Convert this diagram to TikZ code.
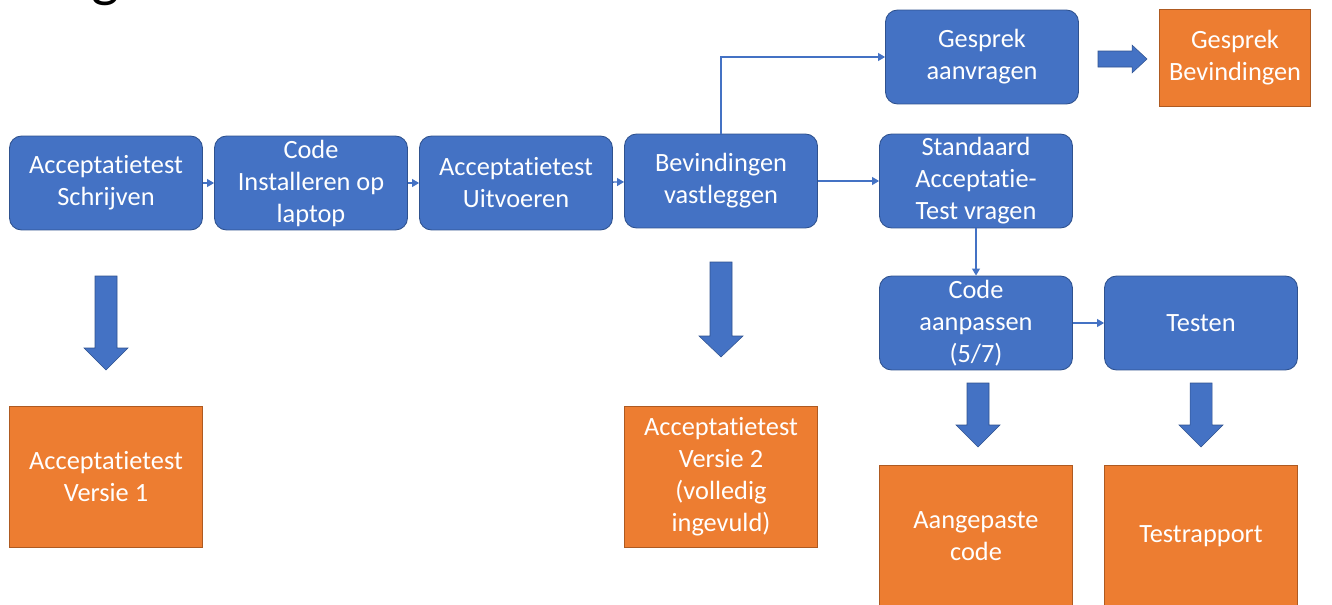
\documentclass[tikz,border=0pt]{standalone}
\usepackage{fontspec}
\setmainfont{Carlito}[Ligatures=NoCommon]
\usetikzlibrary{arrows.meta}
\definecolor{myblue}{HTML}{4472C4}
\definecolor{mybluedark}{HTML}{2F528F}
\definecolor{myorange}{HTML}{ED7D31}
\definecolor{myorangedark}{HTML}{AE5A21}
\tikzset{
  bluebox/.style={rounded corners=0.24cm, fill=myblue, draw=mybluedark, line width=0.5pt,
    text=white, align=center, inner sep=0pt, minimum width=3.86cm, minimum height=1.88cm,
    font=\fontsize{15}{18.2}\selectfont},
  orangebox/.style={fill=myorange, draw=myorangedark, line width=0.5pt,
    text=white, align=center, inner sep=0pt, minimum width=3.86cm,
    font=\fontsize{15}{18.2}\selectfont},
  conn/.style={draw=myblue, line width=0.8pt, -{Triangle[length=4pt,width=4.5pt]}},
  blockarrow/.style={fill=myblue, draw=mybluedark, line width=0.3pt}
}
\begin{document}
\begin{tikzpicture}[x=0.02cm,y=-0.02cm]
\useasboundingbox (0,0) rectangle (1332,605);
\begin{scope}
\clip (0,0) rectangle (1332,605);
\node[font=\fontsize{34}{34}\selectfont, anchor=base, inner sep=0pt] (title) at (106,-5) {g};
% bottom orange boxes (cut off at the lower edge)
\node[orangebox, minimum height=2.9cm, anchor=north] (o4) at (976,465) {};
\node[orangebox, minimum height=2.9cm, anchor=north] (o5) at (1201,465) {};
\end{scope}
\node[font=\fontsize{15}{18.2}\selectfont, text=white, align=center] (o4t) at (976,536) {Aangepaste\\code};
\node[font=\fontsize{15}{18.2}\selectfont, text=white, align=center] (o5t) at (1201,536) {Testrapport};

% blue process boxes
\node[bluebox] (s1) at (106,183) {Acceptatietest\\Schrijven};
\node[bluebox] (s2) at (311,183) {Code\\Installeren op\\laptop};
\node[bluebox] (s3) at (516,183) {Acceptatietest\\Uitvoeren};
\node[bluebox] (s4) at (721,181) {Bevindingen\\vastleggen};
\node[bluebox] (g1) at (982,57) {Gesprek\\aanvragen};
\node[bluebox] (s5) at (976,181) {Standaard\\Acceptatie-\\Test vragen};
\node[bluebox] (s6) at (976,323) {Code\\aanpassen\\(5/7)};
\node[bluebox] (s7) at (1201,323) {Testen};

% orange result boxes
\node[orangebox, minimum width=3.02cm, minimum height=1.94cm] (o1) at (1235,58) {Gesprek\\Bevindingen};
\node[orangebox, minimum height=2.82cm] (o2) at (106,477) {Acceptatietest\\Versie 1};
\node[orangebox, minimum height=2.82cm] (o3) at (721,477) {Acceptatietest\\Versie 2\\(volledig\\ingevuld)};

% thin connectors
\draw[conn] (s1) -- (s2);
\draw[conn] (s2) -- (s3);
\draw[conn] (s3) -- (s4);
\draw[conn] (s4.east) -- (s5.west |- s4.east);
\draw[conn] (s4.north) |- (g1.west);
\draw[conn] (s5.south) -- (s6.north);
\draw[conn] (s6) -- (s7);

% block arrows
\draw[blockarrow] (95,276) -- (117,276) -- (117,348) -- (128,348) -- (106,370) -- (84,348) -- (95,348) -- cycle;
\draw[blockarrow] (710,262) -- (732,262) -- (732,336) -- (743,336) -- (721,357) -- (699,336) -- (710,336) -- cycle;
\draw[blockarrow] (967,383) -- (989,383) -- (989,425) -- (1000,425) -- (978,447) -- (956,425) -- (967,425) -- cycle;
\draw[blockarrow] (1190,383) -- (1212,383) -- (1212,425) -- (1223,425) -- (1201,447) -- (1179,425) -- (1190,425) -- cycle;
\draw[blockarrow] (1098,51) -- (1132,51) -- (1132,45) -- (1147,59) -- (1132,73) -- (1132,67) -- (1098,67) -- cycle;
\end{tikzpicture}
\end{document}
